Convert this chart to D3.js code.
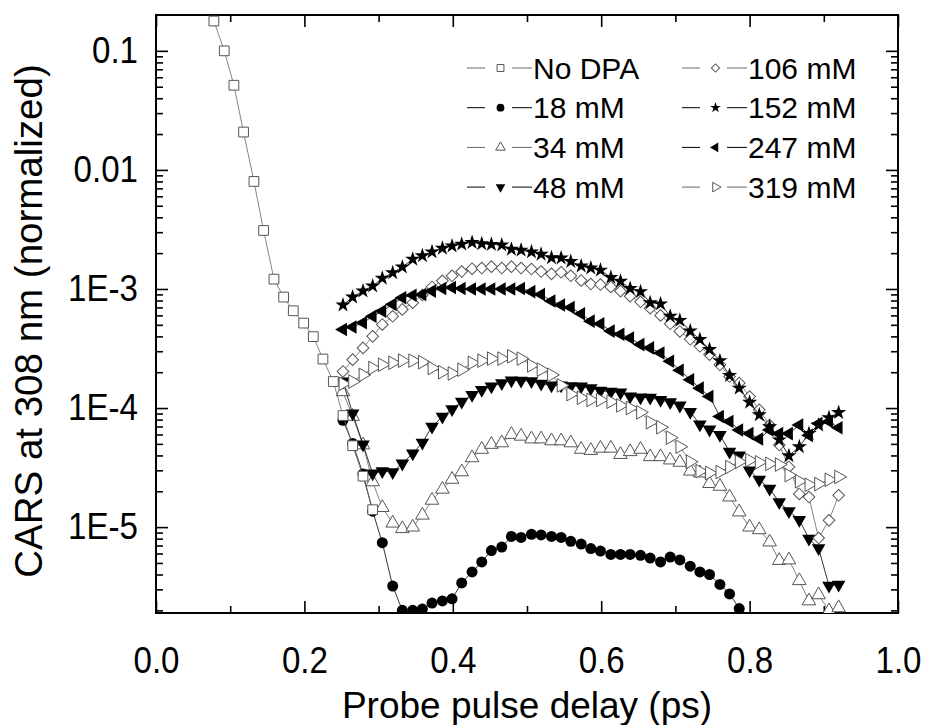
<!DOCTYPE html>
<html>
<head>
<meta charset="utf-8">
<script src="https://cdn.jsdelivr.net/npm/d3@7"></script>
<style>
  body { margin: 0; background: #fff; }
  svg text { font-family: Arial, "Liberation Sans", sans-serif; fill: #000; }
</style>
</head>
<body>
<script>
// delays (ps) of the reference run without DPA
const noDpaDelay = [0.078, 0.092, 0.105, 0.118, 0.132, 0.145, 0.159, 0.172, 0.185,
  0.199, 0.212, 0.225, 0.239, 0.252, 0.265, 0.279, 0.292];
const noDpa = [0.178, 0.100, 0.0514, 0.0208, 0.0080, 0.0031, 1.21e-3, 8.55e-4, 6.56e-4,
  5.17e-4, 3.98e-4, 2.58e-4, 1.67e-4, 8.65e-5, 4.83e-5, 2.68e-5, 1.40e-5];

// delays (ps) shared by all the DPA runs
const delay = [0.252, 0.265, 0.279, 0.292, 0.305, 0.319, 0.332, 0.346, 0.359, 0.372,
  0.386, 0.399, 0.412, 0.426, 0.439, 0.452, 0.466, 0.479, 0.492, 0.506,
  0.519, 0.533, 0.546, 0.559, 0.573, 0.586, 0.599, 0.613, 0.626, 0.639,
  0.653, 0.666, 0.680, 0.693, 0.706, 0.720, 0.733, 0.746, 0.760, 0.773,
  0.786, 0.800, 0.813, 0.827, 0.840, 0.853, 0.867, 0.880, 0.893, 0.907, 0.920];

const mM18 = [7.9e-5, 5.05e-5, 2.8e-5, 1.36e-5, 7.4e-6, 3.2e-6, 2.0e-6, 2.0e-6, 2.05e-6, 2.3e-6,
  2.4e-6, 2.5e-6, 3.4e-6, 4.2e-6, 5.1e-6, 6.35e-6, 6.8e-6, 8.35e-6, 8.2e-6, 8.7e-6,
  8.6e-6, 8.35e-6, 8.2e-6, 7.6e-6, 7.2e-6, 6.6e-6, 6.3e-6, 5.9e-6, 5.9e-6, 5.9e-6,
  5.8e-6, 5.5e-6, 5.1e-6, 5.6e-6, 5.3e-6, 4.7e-6, 4.2e-6, 4.0e-6, 3.3e-6, 2.75e-6,
  2.07e-6, null, null, null, null, null, null, null, null, null, null];
const mM34 = [1.37e-4, 8.5e-5, 4.9e-5, 2.4e-5, 1.46e-5, 1.08e-5, 9.7e-6, 1.0e-5, 1.26e-5, 1.68e-5,
  2.08e-5, 2.52e-5, 2.91e-5, 3.82e-5, 4.5e-5, 4.95e-5, 5.1e-5, 6.0e-5, 5.8e-5, 5.5e-5,
  5.5e-5, 5.3e-5, 5.3e-5, 5.1e-5, 4.5e-5, 4.4e-5, 4.6e-5, 4.6e-5, 4.07e-5, 4.3e-5,
  4.5e-5, 3.9e-5, 3.9e-5, 3.66e-5, 3.5e-5, 2.95e-5, 2.85e-5, 2.32e-5, 2.2e-5, 1.79e-5,
  1.34e-5, 1.0e-5, 9.5e-6, 7.5e-6, 5.24e-6, 5.3e-6, 3.55e-6, 2.4e-6, 2.7e-6, 1.98e-6, 2.1e-6];
const mM48 = [1.67e-4, 9.0e-5, 4.95e-5, 2.82e-5, 2.95e-5, 2.9e-5, 3.42e-5, 4.16e-5, 5.12e-5, 6.98e-5,
  8.48e-5, 9.8e-5, 1.13e-4, 1.29e-4, 1.42e-4, 1.52e-4, 1.62e-4, 1.71e-4, 1.7e-4, 1.68e-4,
  1.6e-4, 1.55e-4, 1.55e-4, 1.53e-4, 1.52e-4, 1.47e-4, 1.4e-4, 1.37e-4, 1.35e-4, 1.25e-4,
  1.23e-4, 1.22e-4, 1.17e-4, 1.12e-4, 1.05e-4, 9.3e-5, 7.3e-5, 6.6e-5, 5.94e-5, 4.3e-5,
  4.0e-5, 3.0e-5, 2.5e-5, 2.1e-5, 1.62e-5, 1.36e-5, 1.15e-5, 8.0e-6, 6.65e-6, 3.22e-6, 3.28e-6];
const mM106 = [2.03e-4, 2.55e-4, 3.2e-4, 4.0e-4, 5.04e-4, 5.9e-4, 6.74e-4, 7.67e-4, 8.9e-4, 1.04e-3,
  1.17e-3, 1.29e-3, 1.4e-3, 1.48e-3, 1.5e-3, 1.54e-3, 1.5e-3, 1.54e-3, 1.5e-3, 1.47e-3,
  1.4e-3, 1.34e-3, 1.38e-3, 1.29e-3, 1.18e-3, 1.1e-3, 1.09e-3, 1.04e-3, 9.6e-4, 8.7e-4,
  7.8e-4, 6.9e-4, 6.0e-4, 5.1e-4, 4.4e-4, 3.78e-4, 3.3e-4, 2.81e-4, 2.31e-4, 1.84e-4,
  1.62e-4, 1.25e-4, 9.66e-5, 7.2e-5, 4.89e-5, 3.2e-5, 1.9e-5, 1.79e-5, 8.1e-6, 1.14e-5, 1.85e-5];
const mM152 = [7.33e-4, 8.55e-4, 9.62e-4, 1.06e-3, 1.23e-3, 1.37e-3, 1.53e-3, 1.78e-3, 1.9e-3, 2.05e-3,
  2.2e-3, 2.3e-3, 2.38e-3, 2.46e-3, 2.4e-3, 2.37e-3, 2.34e-3, 2.16e-3, 2.12e-3, 2.05e-3,
  1.96e-3, 1.83e-3, 1.82e-3, 1.7e-3, 1.56e-3, 1.5e-3, 1.44e-3, 1.25e-3, 1.16e-3, 1.01e-3,
  9.5e-4, 7.67e-4, 7.5e-4, 5.9e-4, 5.45e-4, 4.45e-4, 3.76e-4, 3.1e-4, 2.5e-4, 1.88e-4,
  1.47e-4, 1.12e-4, 8.77e-5, 6.98e-5, 5.4e-5, 3.97e-5, 4.73e-5, 6.12e-5, 7.2e-5, 8.3e-5, 9.16e-5];
const mM247 = [4.57e-4, 4.8e-4, 5.2e-4, 5.9e-4, 6.52e-4, 7.43e-4, 8.45e-4, 8.85e-4, 9.0e-4, 9.6e-4,
  1.01e-3, 1.03e-3, 1.01e-3, 1.0e-3, 1.0e-3, 1.0e-3, 1.0e-3, 1.0e-3, 1.01e-3, 9.5e-4,
  9.0e-4, 7.93e-4, 7.33e-4, 7.0e-4, 6.2e-4, 5.37e-4, 5.1e-4, 4.43e-4, 4.17e-4, 3.88e-4,
  3.41e-4, 3.2e-4, 2.9e-4, 2.47e-4, 2.08e-4, 1.73e-4, 1.47e-4, 1.25e-4, 8.5e-5, 7.7e-5,
  6.55e-5, 6.1e-5, 5.5e-5, 6.55e-5, 6.1e-5, 6.1e-5, 7.2e-5, 5.9e-5, 7.4e-5, 7.7e-5, 6.84e-5];
const mM319 = [1.6e-4, 1.67e-4, 1.9e-4, 2.17e-4, 2.31e-4, 2.4e-4, 2.5e-4, 2.5e-4, 2.43e-4, 2.17e-4,
  2.0e-4, 1.95e-4, 2.1e-4, 2.4e-4, 2.5e-4, 2.6e-4, 2.6e-4, 2.72e-4, 2.6e-4, 2.28e-4,
  2.1e-4, 1.9e-4, 1.55e-4, 1.31e-4, 1.22e-4, 1.17e-4, 1.17e-4, 1.13e-4, 1.05e-4, 1.0e-4,
  9.2e-5, 7.6e-5, 6.9e-5, 5.64e-5, 4.73e-5, 3.54e-5, 2.95e-5, 2.85e-5, 2.9e-5, 3.2e-5,
  3.54e-5, 3.65e-5, 3.5e-5, 3.4e-5, 3.35e-5, 2.73e-5, 2.43e-5, 2.27e-5, 2.3e-5, 2.5e-5, 2.64e-5];

const seriesNames = ["No DPA", "18 mM", "34 mM", "48 mM", "106 mM", "152 mM", "247 mM", "319 mM"];
const xTicks = [0, 0.2, 0.4, 0.6, 0.8, 1.0];
const xMinorTicks = [0.1, 0.3, 0.5, 0.7, 0.9];
const yTicks = [0.1, 0.01, 1e-3, 1e-4, 1e-5];
const yTickLabels = ["0.1", "0.01", "1E-3", "1E-4", "1E-5"];

const w = 927, h = 725;
const pLeft = 156, pRight = 898, pTop = 15, pBottom = 613;

// marker style per series: shape, rotation, filled
const series = [
  { name: seriesNames[1], x: delay, y: mM18, shape: d3.symbolCircle, size: 95, rot: 0, filled: true },
  { name: seriesNames[2], x: delay, y: mM34, shape: d3.symbolTriangle, size: 80, rot: 0, filled: false },
  { name: seriesNames[3], x: delay, y: mM48, shape: d3.symbolTriangle, size: 80, rot: 180, filled: true },
  { name: seriesNames[4], x: delay, y: mM106, shape: d3.symbolSquare, size: 68, rot: 45, filled: false },
  { name: seriesNames[5], x: delay, y: mM152, shape: d3.symbolStar, size: 72, rot: 0, filled: true },
  { name: seriesNames[6], x: delay, y: mM247, shape: d3.symbolTriangle, size: 80, rot: -90, filled: true },
  { name: seriesNames[7], x: delay, y: mM319, shape: d3.symbolTriangle, size: 80, rot: 90, filled: false },
  { name: seriesNames[0], x: noDpaDelay, y: noDpa, shape: d3.symbolSquare, size: 95, rot: 0, filled: false }
];

const xScale = d3.scaleLinear().domain([0, 1]).range([pLeft, pRight]);
const yScale = d3.scaleLog().domain([1.9e-6, 0.2]).range([pBottom, pTop]);

const svg = d3.select("body").append("svg")
  .attr("width", w)
  .attr("height", h);

svg.append("defs").append("clipPath").attr("id", "plot")
  .append("rect")
  .attr("x", pLeft).attr("y", pTop)
  .attr("width", pRight - pLeft).attr("height", pBottom - pTop);

// minor log ticks: 2..9 of each decade inside the domain
const yMinor = [];
for (let e = -6; e <= -1; e++) {
  for (let m = 2; m <= 9; m++) {
    const v = m * Math.pow(10, e);
    if (v > 1.9e-6 && v < 0.2) yMinor.push(v);
  }
}

const styleAxis = (g) => {
  g.select(".domain").remove();
  g.selectAll(".tick line").attr("stroke", "#000").attr("stroke-width", 1.6);
};

// bottom axis with labels
svg.append("g")
   .attr("transform", `translate(0,${pBottom})`)
   .call(d3.axisBottom(xScale).tickValues(xTicks).tickSize(-12).tickPadding(34)
     .tickFormat(d3.format(".1f")))
   .call(styleAxis)
   .selectAll("text")
   .attr("font-size", 36);

svg.append("g")
   .attr("transform", `translate(0,${pBottom})`)
   .call(d3.axisBottom(xScale).tickValues(xMinorTicks).tickSize(-7).tickFormat(""))
   .call(styleAxis);

// top axis
svg.append("g")
   .attr("transform", `translate(0,${pTop})`)
   .call(d3.axisTop(xScale).tickValues(xTicks).tickSize(-12).tickFormat(""))
   .call(styleAxis);
svg.append("g")
   .attr("transform", `translate(0,${pTop})`)
   .call(d3.axisTop(xScale).tickValues(xMinorTicks).tickSize(-7).tickFormat(""))
   .call(styleAxis);

// left axis with labels
svg.append("g")
   .attr("transform", `translate(${pLeft},0)`)
   .call(d3.axisLeft(yScale).tickValues(yTicks).tickSize(-12).tickPadding(18)
     .tickFormat((d, i) => yTickLabels[i]))
   .call(styleAxis)
   .selectAll("text")
   .attr("font-size", 36);

svg.append("g")
   .attr("transform", `translate(${pLeft},0)`)
   .call(d3.axisLeft(yScale).tickValues(yMinor).tickSize(-7).tickFormat(""))
   .call(styleAxis);

// right axis
svg.append("g")
   .attr("transform", `translate(${pRight},0)`)
   .call(d3.axisRight(yScale).tickValues(yTicks).tickSize(-12).tickFormat(""))
   .call(styleAxis);
svg.append("g")
   .attr("transform", `translate(${pRight},0)`)
   .call(d3.axisRight(yScale).tickValues(yMinor).tickSize(-7).tickFormat(""))
   .call(styleAxis);

// tick labels are a bit narrow in the original
svg.selectAll(".tick text").each(function () {
  const len = this.getComputedTextLength();
  if (len > 0) d3.select(this).attr("textLength", len * 0.92).attr("lengthAdjust", "spacingAndGlyphs");
});

// frame
svg.append("rect")
   .attr("x", pLeft).attr("y", pTop)
   .attr("width", pRight - pLeft).attr("height", pBottom - pTop)
   .attr("fill", "none")
   .attr("stroke", "#000")
   .attr("stroke-width", 2);

// data
const plot = svg.append("g").attr("clip-path", "url(#plot)");

const line = d3.line()
  .defined(d => d[1] != null)
  .x(d => xScale(d[0]))
  .y(d => yScale(d[1]));

series.forEach(s => {
  const pts = s.x.map((x, i) => [x, s.y[i]]);
  const g = plot.append("g");

  g.append("path")
   .datum(pts)
   .attr("d", line)
   .attr("fill", "none")
   .attr("stroke", s.filled ? "#000" : "#666")
   .attr("stroke-width", 0.8);

  g.selectAll("path.mark")
   .data(pts.filter(d => d[1] != null))
   .enter()
   .append("path")
   .attr("class", "mark")
   .attr("d", d3.symbol().type(s.shape).size(s.size))
   .attr("transform", d => `translate(${xScale(d[0])},${yScale(d[1])}) rotate(${s.rot})`)
   .attr("fill", s.filled ? "#000" : "#fff")
   .attr("stroke", s.filled ? "none" : "#555")
   .attr("stroke-width", 1);
});

// legend: two columns of four
const legendOrder = [7, 0, 1, 2, 3, 4, 5, 6];
const legend = svg.append("g");
legendOrder.forEach((si, k) => {
  const s = series[si];
  const x0 = k < 4 ? 467 : 682;
  const y0 = 68 + (k % 4) * 39.7;
  const c = s.filled ? "#000" : "#666";
  legend.append("line")
    .attr("x1", x0).attr("x2", x0 + 18).attr("y1", y0).attr("y2", y0)
    .attr("stroke", c).attr("stroke-width", 1);
  legend.append("line")
    .attr("x1", x0 + 45).attr("x2", x0 + 65).attr("y1", y0).attr("y2", y0)
    .attr("stroke", c).attr("stroke-width", 1);
  legend.append("path")
    .attr("d", d3.symbol().type(s.shape).size(s.size * 0.5))
    .attr("transform", `translate(${x0 + 33.5},${y0}) rotate(${s.rot})`)
    .attr("fill", s.filled ? "#000" : "#fff")
    .attr("stroke", s.filled ? "none" : "#555")
    .attr("stroke-width", 1);
  legend.append("text")
    .attr("x", x0 + 66)
    .attr("y", y0)
    .attr("dy", "0.35em")
    .attr("font-size", 30)
    .text(s.name);
});

// axis titles
svg.append("text")
   .attr("x", (pLeft + pRight) / 2)
   .attr("y", 718)
   .attr("text-anchor", "middle")
   .attr("font-size", 37)
   .text("Probe pulse delay (ps)");

svg.append("text")
   .attr("transform", `translate(42,321) rotate(-90)`)
   .attr("text-anchor", "middle")
   .attr("font-size", 38.5)
   .text("CARS at 308 nm (normalized)");
</script>
</body>
</html>
